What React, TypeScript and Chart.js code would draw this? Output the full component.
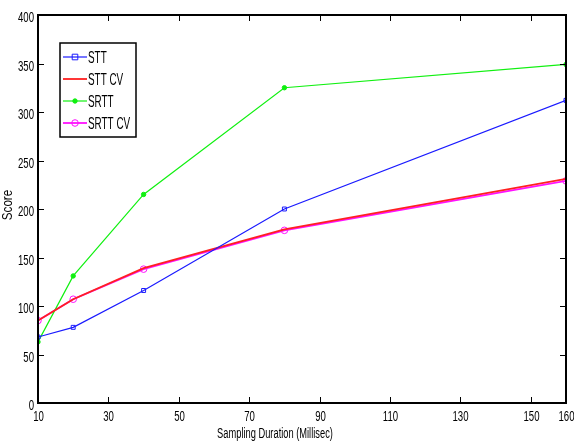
import React, { useEffect, useRef } from "react";
import { Chart, registerables } from "chart.js";

Chart.register(...registerables);

const xValues = [10, 20, 40, 80, 160];
const sttValues = [68, 78, 116, 200, 312];
const sttCvValues = [85, 107, 139, 179, 231];
const srttValues = [63, 131, 215, 325, 349];
const srttCvValues = [85, 107, 138, 178, 229];
const xTicks = [10, 30, 50, 70, 90, 110, 130, 150, 160];
const yTicks = [0, 50, 100, 150, 200, 250, 300, 350, 400];
const seriesNames = ["STT", "STT CV", "SRTT", "SRTT CV"];
const xTitle = "Sampling Duration (Millisec)";
const yTitle = "Score";

const FONT = "'Liberation Sans', Arial, sans-serif";

function narrowText(ctx: CanvasRenderingContext2D, text: string, x: number, y: number, align: CanvasTextAlign, size: number, squeeze: number, rot = 0) {
  ctx.save();
  ctx.translate(x, y);
  if (rot) ctx.rotate(rot);
  ctx.scale(squeeze, 1);
  ctx.font = `${size}px ${FONT}`;
  ctx.fillStyle = "#000";
  ctx.textAlign = align;
  ctx.textBaseline = "middle";
  ctx.fillText(text, 0, 0);
  ctx.restore();
}

const framePlugin = {
  id: "frame",
  afterDatasetsDraw(chart: any) {
    const { ctx, chartArea, scales } = chart;
    const { left, right, top, bottom } = chartArea;
    ctx.save();
    ctx.strokeStyle = "#000";
    ctx.lineWidth = 1;
    const tl = 6;
    xTicks.forEach((v) => {
      const px = Math.round(scales.x.getPixelForValue(v)) + 0.5;
      ctx.beginPath();
      ctx.moveTo(px, bottom);
      ctx.lineTo(px, bottom - tl);
      ctx.moveTo(px, top);
      ctx.lineTo(px, top + tl);
      ctx.stroke();
      narrowText(ctx, String(v), px, bottom + 13.5, "center", 15.5, 0.62);
    });
    yTicks.forEach((v) => {
      const py = Math.round(scales.y.getPixelForValue(v)) + 0.5;
      ctx.beginPath();
      ctx.moveTo(left, py);
      ctx.lineTo(left + tl, py);
      ctx.moveTo(right, py);
      ctx.lineTo(right - tl, py);
      ctx.stroke();
      narrowText(ctx, String(v), left - 4, py + 2.5, "right", 15.5, 0.62);
    });
    ctx.lineWidth = 2;
    ctx.strokeRect(left, top, right - left, bottom - top);
    narrowText(ctx, xTitle, 275, 434, "center", 15.5, 0.6);
    narrowText(ctx, yTitle, 8, 205, "center", 15.5, 0.75, -Math.PI / 2);
    ctx.restore();
  },
};

const legendPlugin = {
  id: "boxLegend",
  afterDraw(chart: any) {
    const { ctx } = chart;
    const bx = 60, by = 43, bw = 76, bh = 94;
    ctx.save();
    ctx.fillStyle = "#fff";
    ctx.fillRect(bx, by, bw, bh);
    ctx.strokeStyle = "#000";
    ctx.lineWidth = 1.5;
    ctx.strokeRect(bx, by, bw, bh);
    chart.data.datasets.forEach((ds: any, i: number) => {
      const y = by + 14 + i * 22;
      ctx.strokeStyle = ds.borderColor;
      ctx.lineWidth = ds.borderWidth;
      ctx.beginPath();
      ctx.moveTo(bx + 3, y);
      ctx.lineTo(bx + 27, y);
      ctx.stroke();
      if (ds.pointStyle && ds.pointRadius > 0) {
        ctx.fillStyle = ds.pointBackgroundColor;
        ctx.strokeStyle = ds.pointBorderColor;
        ctx.lineWidth = 1;
        ctx.beginPath();
        if (ds.pointStyle === "rect") {
          const r = ds.pointRadius;
          ctx.rect(bx + 15 - r, y - r, 2 * r, 2 * r);
        } else {
          ctx.arc(bx + 15, y, ds.pointRadius, 0, Math.PI * 2);
        }
        if (ds.pointBackgroundColor !== "transparent") ctx.fill();
        ctx.stroke();
      }
      narrowText(ctx, seriesNames[i], bx + 28, y + 1, "left", 16.5, 0.6);
    });
    ctx.restore();
  },
};

export default function App() {
  const ref = useRef<HTMLCanvasElement>(null);
  useEffect(() => {
    document.body.style.margin = "0";
    const toPts = (vals: number[]) => vals.map((v, i) => ({ x: xValues[i], y: v }));
    const chart = new Chart(ref.current!, {
      type: "line",
      data: {
        datasets: [
          {
            label: seriesNames[0],
            data: toPts(sttValues),
            borderColor: "#1a1aff",
            borderWidth: 1.2,
            pointStyle: "rect",
            pointRadius: 2.8,
            pointBackgroundColor: "transparent",
            pointBorderColor: "#1a1aff",
            pointBorderWidth: 1,
          },
          {
            label: seriesNames[1],
            data: toPts(sttCvValues),
            borderColor: "#ff2020",
            borderWidth: 1.8,
            pointRadius: 0,
            pointStyle: false as any,
          },
          {
            label: seriesNames[2],
            data: toPts(srttValues),
            borderColor: "#10f010",
            borderWidth: 1.2,
            pointStyle: "circle",
            pointRadius: 2.2,
            pointBackgroundColor: "#10f010",
            pointBorderColor: "#10f010",
            pointBorderWidth: 1,
          },
          {
            label: seriesNames[3],
            data: toPts(srttCvValues),
            borderColor: "#ff10ff",
            borderWidth: 1.8,
            pointStyle: "circle",
            pointRadius: 3.3,
            pointBackgroundColor: "transparent",
            pointBorderColor: "#ff10ff",
            pointBorderWidth: 1,
          },
        ],
      },
      options: {
        animation: false,
        responsive: false,
        layout: { padding: { left: 0, right: 8, top: 15, bottom: 0 } },
        plugins: { legend: { display: false }, tooltip: { enabled: false } },
        scales: {
          x: {
            type: "linear",
            min: 10,
            max: 160,
            afterBuildTicks: (s: any) => {
              s.ticks = xTicks.map((v) => ({ value: v }));
            },
            afterFit: (s: any) => {
              s.height = 39;
            },
            grid: { display: false },
            border: { display: false },
            ticks: { display: false },
          },
          y: {
            min: 0,
            max: 400,
            afterBuildTicks: (s: any) => {
              s.ticks = yTicks.map((v) => ({ value: v }));
            },
            afterFit: (s: any) => {
              s.width = 38;
            },
            grid: { display: false },
            border: { display: false },
            ticks: { display: false },
          },
        },
      },
      plugins: [framePlugin, legendPlugin],
    });
    return () => chart.destroy();
  }, []);
  return (
    <div style={{ width: 574, height: 442 }}>
      <canvas ref={ref} width={574} height={442} style={{ display: "block" }} />
    </div>
  );
}
